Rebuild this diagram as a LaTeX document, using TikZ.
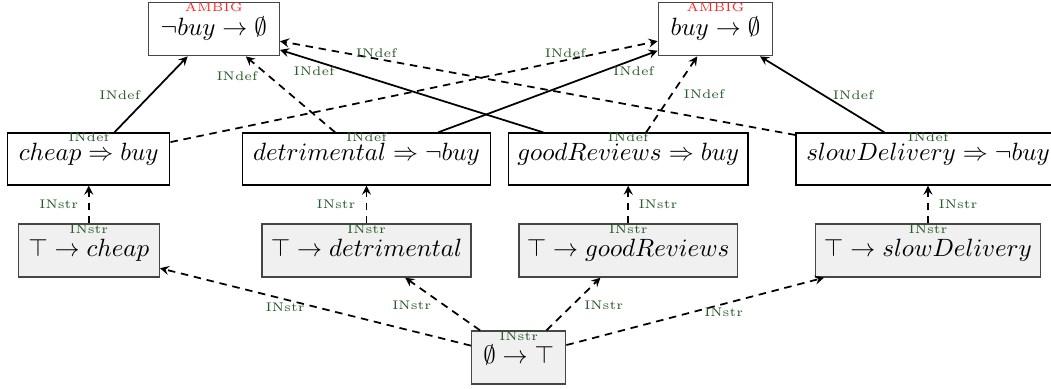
\documentclass[tikz,border=0pt]{standalone}
\usepackage{amsmath,amssymb}
\usetikzlibrary{arrows.meta}
\definecolor{lblgreen}{RGB}{40,92,40}
\definecolor{ambred}{RGB}{255,40,40}
\definecolor{boxfill}{RGB}{240,240,240}
\definecolor{boxline}{RGB}{70,70,70}
\begin{document}
\begin{tikzpicture}[x=0.4pt,y=-0.4pt,
  basebox/.style={rectangle, draw, line width=0.55pt, inner xsep=0pt, inner ysep=0pt, font=\normalsize},
  topbox/.style={basebox, draw=boxline, text height=13.2pt, text depth=8.0pt},
  rulebox/.style={basebox, draw=black, text height=10.9pt, text depth=9.9pt},
  factbox/.style={basebox, draw=boxline, fill=boxfill, text height=13.1pt, text depth=8.1pt},
  nodetag/.style={anchor=base, yshift=-3.9pt, font=\tiny, text=lblgreen, inner sep=0pt},
  ruletag/.style={nodetag, yshift=0.3pt},
  ambtag/.style={nodetag, text=ambred},
  el/.style={font=\tiny, text=lblgreen, inner sep=0pt, anchor=center},
  conn/.style={line width=0.7pt, -{Stealth[length=3.6pt,width=3.6pt,inset=1.3pt]}},
  dconn/.style={conn, dash pattern=on 3pt off 2.3pt},
]
\useasboundingbox (0,0) rectangle (1051,388);

% nodes
\node[topbox, minimum width=52.4pt] (A1) at (213.8,29.2) {$\neg buy \to \emptyset$};
\node[topbox, minimum width=45.8pt] (A2) at (715.5,29.2) {$buy \to \emptyset$};
\node[rulebox, minimum width=64.8pt] (R1) at (88.75,159) {$cheap \Rightarrow buy$};
\node[rulebox, minimum width=99pt] (R2) at (366.5,159) {$detrimental \Rightarrow \neg buy$};
\node[rulebox, minimum width=95.8pt] (R3) at (628.2,159) {$goodReviews \Rightarrow buy$};
\node[rulebox, minimum width=105.6pt] (R4) at (928,159) {$slowDelivery \Rightarrow \neg buy$};
\node[factbox, minimum width=56.4pt] (S1) at (88.75,250.5) {$\top \to cheap$};
\node[factbox, minimum width=83.6pt] (S2) at (366.5,250.5) {$\top \to detrimental$};
\node[factbox, minimum width=87.5pt] (S3) at (628.2,250.5) {$\top \to goodReviews$};
\node[factbox, minimum width=90.2pt] (S4) at (928,250.5) {$\top \to slowDelivery$};
\node[factbox, minimum width=37.6pt] (R0) at (518.7,357.5) {$\emptyset \to \top$};

% tags inside boxes
\node[ambtag] (A1t) at (A1.north) {AMBIG};
\node[ambtag] (A2t) at (A2.north) {AMBIG};
\node[ruletag] (R1t) at (R1.north) {INdef};
\node[ruletag] (R2t) at (R2.north) {INdef};
\node[ruletag] (R3t) at (R3.north) {INdef};
\node[ruletag] (R4t) at (R4.north) {INdef};
\node[nodetag] (S1t) at (S1.north) {INstr};
\node[nodetag] (S2t) at (S2.north) {INstr};
\node[nodetag] (S3t) at (S3.north) {INstr};
\node[nodetag] (S4t) at (S4.north) {INstr};
\node[nodetag] (R0t) at (R0.north) {INstr};

% rules -> ambiguity nodes
\draw[conn]  (R1) -- node[el, pos=0.491, xshift=-12.2pt] {INdef} (A1);
\draw[dconn] (R2) -- node[el, pos=0.737, xshift=-12.9pt] {INdef} (A1);
\draw[conn]  (R3) -- node[el, pos=0.870, yshift=-4.2pt] {INdef} (A1);
\draw[dconn] (R4) -- node[el, pos=0.813, yshift=2.1pt] {INdef} (A1);
\draw[dconn] (R1) -- node[el, pos=0.8105, yshift=2.8pt] {INdef} (A2);
\draw[conn]  (R2) -- node[el, pos=0.891, yshift=-4.6pt] {INdef} (A2);
\draw[dconn] (R3) -- node[el, pos=0.498, xshift=13pt] {INdef} (A2);
\draw[conn]  (R4) -- node[el, pos=0.491, xshift=12pt] {INdef} (A2);

% facts -> rules
\draw[dconn] (S1) -- node[el, pos=0.5, xshift=-12pt] {INstr} (R1);
\draw[dconn] (S2) -- node[el, pos=0.5, xshift=-12.2pt] {INstr} (R2);
\draw[dconn] (S3) -- node[el, pos=0.5, xshift=11.9pt] {INstr} (R3);
\draw[dconn] (S4) -- node[el, pos=0.5, xshift=12pt] {INstr} (R4);

% root -> facts
\draw[dconn] (R0) -- node[el, pos=0.5975, yshift=-3.1pt] {INstr} (S1);
\draw[dconn] (R0) -- node[el, pos=0.4816, xshift=-12.9pt] {INstr} (S2);
\draw[dconn] (R0) -- node[el, pos=0.4816, xshift=12.5pt] {INstr} (S3);
\draw[dconn] (R0) -- node[el, pos=0.6105, yshift=-3.2pt] {INstr} (S4);
\end{tikzpicture}
\end{document}
